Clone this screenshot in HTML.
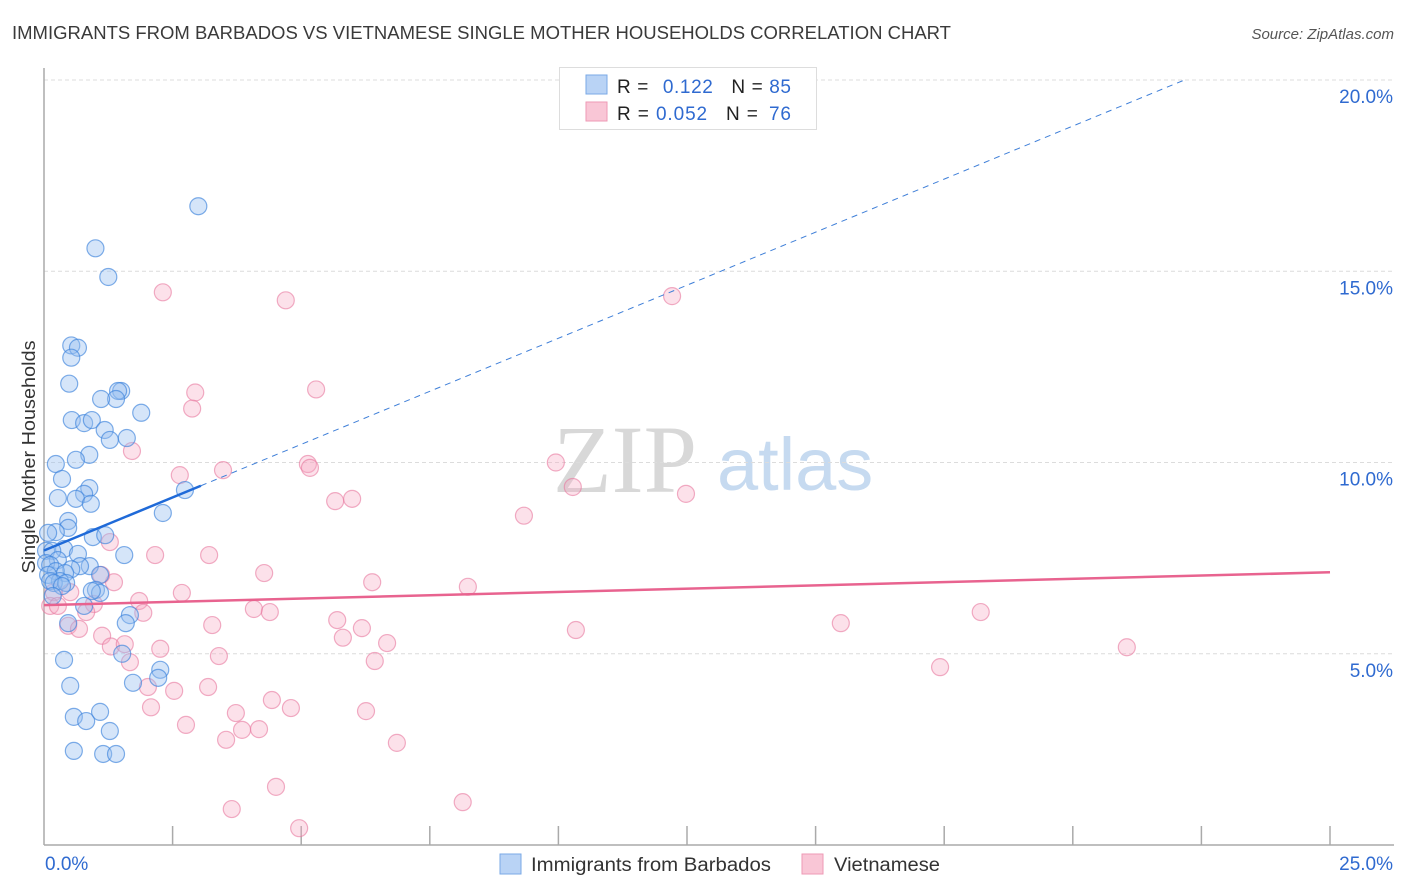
<!DOCTYPE html>
<html><head><meta charset="utf-8"><style>
body{margin:0;background:#fff;font-family:"Liberation Sans",sans-serif;}
svg{display:block}
</style></head><body>
<svg width="1406" height="892" xmlns="http://www.w3.org/2000/svg" id="chart">
<text x="12" y="39" font-size="18" fill="#3a3a3a" textLength="939" lengthAdjust="spacingAndGlyphs">IMMIGRANTS FROM BARBADOS VS VIETNAMESE SINGLE MOTHER HOUSEHOLDS CORRELATION CHART</text>
<text x="1394" y="39" font-size="15" fill="#555" font-style="italic" text-anchor="end">Source: ZipAtlas.com</text>
<g>
<text x="553" y="492" font-size="96" font-family="Liberation Serif,serif" fill="#d8d8d8">ZIP</text>
<text x="717" y="490" font-size="74" fill="#c6daf0">atlas</text>
</g>
<g id="grid"></g>
<g id="axes"></g>
<g id="pink"></g>
<g id="blue"></g>
<g id="trends"></g>
<text x="35" y="457" font-size="18" fill="#333" textLength="233" lengthAdjust="spacingAndGlyphs" transform="rotate(-90 35 457)" text-anchor="middle">Single Mother Households</text>
<g>
<rect x="559.5" y="67.5" width="257" height="62" fill="#fff" stroke="#ddd"/>
<rect x="586" y="75" width="21" height="19" fill="#b9d3f5" stroke="#7aa8e6"/>
<rect x="586" y="102" width="21" height="19" fill="#f9c6d6" stroke="#ee9ab5"/>
<text x="617" y="93" font-size="19" fill="#222" textLength="174">R = <tspan fill="#2f6ad0" dx="8">0.122</tspan><tspan dx="18">N = </tspan><tspan fill="#2f6ad0">85</tspan></text>
<text x="617" y="120" font-size="19" fill="#222" textLength="174">R = <tspan fill="#2f6ad0">0.052</tspan><tspan dx="18">N = </tspan><tspan fill="#2f6ad0" dx="4">76</tspan></text>
</g>
<g>
<rect x="500" y="854" width="21" height="20" fill="#b9d3f5" stroke="#7aa8e6"/>
<text x="531" y="871" font-size="19" fill="#333" textLength="240" lengthAdjust="spacingAndGlyphs">Immigrants from Barbados</text>
<rect x="802" y="854" width="21" height="20" fill="#f9c6d6" stroke="#ee9ab5"/>
<text x="834" y="871" font-size="19" fill="#333" textLength="106" lengthAdjust="spacingAndGlyphs">Vietnamese</text>
</g>
</svg>
<script>
const yTicks=[5,10,15,20];
const yTickLabels=["5.0%","10.0%","15.0%","20.0%"];
const xEdgeLabels=["0.0%","25.0%"];
const blueX=[3.0,1.0,1.25,0.53,0.66,0.53,0.49,1.5,1.44,1.4,1.11,1.89,0.54,0.78,0.93,1.18,1.28,1.61,0.88,0.62,0.23,0.35,0.88,0.78,0.27,0.62,0.91,2.74,2.31,0.47,0.47,0.23,0.08,0.95,1.19,0.39,0.04,0.16,0.66,1.56,0.27,0.04,0.12,0.89,0.7,0.53,0.23,1.09,0.08,0.41,0.31,0.12,0.19,0.43,0.35,1.01,1.09,0.93,0.17,0.78,1.67,1.59,0.47,0.39,2.26,2.22,1.73,0.51,0.58,0.82,1.09,1.28,0.58,1.15,1.4,1.52];
const blueY=[16.7,15.6,14.85,13.06,13.0,12.74,12.06,11.87,11.87,11.66,11.66,11.3,11.11,11.03,11.11,10.85,10.59,10.64,10.2,10.07,9.96,9.57,9.33,9.18,9.07,9.05,8.92,9.28,8.68,8.47,8.29,8.18,8.16,8.05,8.1,7.74,7.69,7.69,7.61,7.58,7.45,7.37,7.32,7.29,7.29,7.21,7.16,7.06,7.06,7.11,6.9,6.9,6.85,6.85,6.77,6.67,6.59,6.64,6.51,6.25,6.01,5.8,5.8,4.84,4.58,4.37,4.24,4.16,3.35,3.24,3.48,2.98,2.46,2.38,2.38,5.0];
const pinkX=[2.31,4.7,12.21,2.94,5.29,2.88,1.71,5.13,5.17,9.95,3.48,2.64,10.28,12.48,5.66,5.99,9.33,1.28,2.16,3.21,4.28,6.38,8.24,1.36,1.11,0.51,0.19,2.68,1.85,0.12,0.97,0.27,0.82,1.93,4.08,4.39,18.21,15.49,5.7,10.34,3.27,6.18,0.47,0.68,1.13,5.81,1.3,1.57,6.67,21.05,2.26,3.4,6.43,1.67,17.42,2.02,2.53,3.19,4.43,4.8,2.08,3.73,6.26,2.76,3.85,4.18,3.54,6.86,4.51,3.65,8.14,4.96];
const pinkY=[14.45,14.24,14.35,11.83,11.91,11.41,10.3,9.96,9.86,10.0,9.8,9.67,9.36,9.18,8.99,9.05,8.61,7.92,7.58,7.58,7.11,6.87,6.75,6.87,7.06,6.61,6.61,6.59,6.38,6.25,6.3,6.25,6.09,6.07,6.17,6.09,6.09,5.8,5.88,5.62,5.75,5.67,5.73,5.65,5.47,5.42,5.19,5.25,5.28,5.17,5.13,4.94,4.81,4.78,4.65,4.13,4.03,4.13,3.79,3.58,3.6,3.45,3.5,3.14,3.01,3.03,2.75,2.67,1.52,0.94,1.12,0.44];
const trendBlue=[7.7,20.0];const trendBlueX=[0,22.17];const blueSolidEnd=3.05;
const trendPink=[6.27,7.13];const trendPinkX=[0,25];
const NS="http://www.w3.org/2000/svg";
const X0=44,X1=1330,Y0=845,Y20=80;
function sx(v){return X0+v*(X1-X0)/25;}
function sy(v){return Y0-v*(Y0-Y20)/20;}
function mk(tag,attrs,parent){const e=document.createElementNS(NS,tag);for(const k in attrs)e.setAttribute(k,attrs[k]);parent.appendChild(e);return e;}
const grid=document.getElementById('grid'),axes=document.getElementById('axes');
yTicks.forEach((t,i)=>{
 const l=mk('line',{x1:X0,x2:1394,y1:sy(t),y2:sy(t),stroke:'#dcdcdc','stroke-dasharray':'4,3'},grid);
 
 
 const tx=mk('text',{x:1393,y:sy(t)+23,'font-size':19,fill:'#2f6ad0','text-anchor':'end'},axes);
 tx.textContent=yTickLabels[i];
 
 
});
const ya=mk('line',{x1:X0,x2:X0,y1:68,y2:Y0,stroke:'#aaa','stroke-width':1.5},axes);


const xa=mk('line',{x1:X0,x2:1394,y1:Y0,y2:Y0,stroke:'#aaa','stroke-width':1.5},axes);


for(let k=1;k<=10;k++){
 const t=mk('line',{x1:sx(k*2.5),x2:sx(k*2.5),y1:Y0-19,y2:Y0,stroke:'#aaa','stroke-width':1.5},axes);
 
 
}
const xl0=mk('text',{x:45,y:870,'font-size':19,fill:'#2f6ad0'},axes);xl0.textContent=xEdgeLabels[0];


const xl1=mk('text',{x:1393,y:870,'font-size':19,fill:'#2f6ad0','text-anchor':'end'},axes);xl1.textContent=xEdgeLabels[1];


const pg=document.getElementById('pink');
pinkX.forEach((v,i)=>{const c=mk('circle',{cx:sx(v),cy:sy(pinkY[i]),r:8.5,fill:'rgba(246,170,195,0.35)',stroke:'rgba(232,120,158,0.6)','stroke-width':1.2},pg);
 
 });
const bg=document.getElementById('blue');
blueX.forEach((v,i)=>{const c=mk('circle',{cx:sx(v),cy:sy(blueY[i]),r:8.5,fill:'rgba(150,190,240,0.4)',stroke:'rgba(60,130,220,0.65)','stroke-width':1.2},bg);
 
 });
const tg=document.getElementById('trends');
function by(x){return trendBlue[0]+(trendBlue[1]-trendBlue[0])*(x-trendBlueX[0])/(trendBlueX[1]-trendBlueX[0]);}
const bd=mk('line',{x1:sx(blueSolidEnd),y1:sy(by(blueSolidEnd)),x2:sx(trendBlueX[1]),y2:sy(trendBlue[1]),stroke:'#3f7fd8','stroke-width':1,'stroke-dasharray':'6,5'},tg);


const bs=mk('line',{x1:sx(trendBlueX[0]),y1:sy(trendBlue[0]),x2:sx(blueSolidEnd),y2:sy(by(blueSolidEnd)),stroke:'#1f6ad8','stroke-width':2.5},tg);


const pl=mk('line',{x1:sx(trendPinkX[0]),y1:sy(trendPink[0]),x2:sx(trendPinkX[1]),y2:sy(trendPink[1]),stroke:'#e8638f','stroke-width':2.5},tg);


</script>
</body></html>
